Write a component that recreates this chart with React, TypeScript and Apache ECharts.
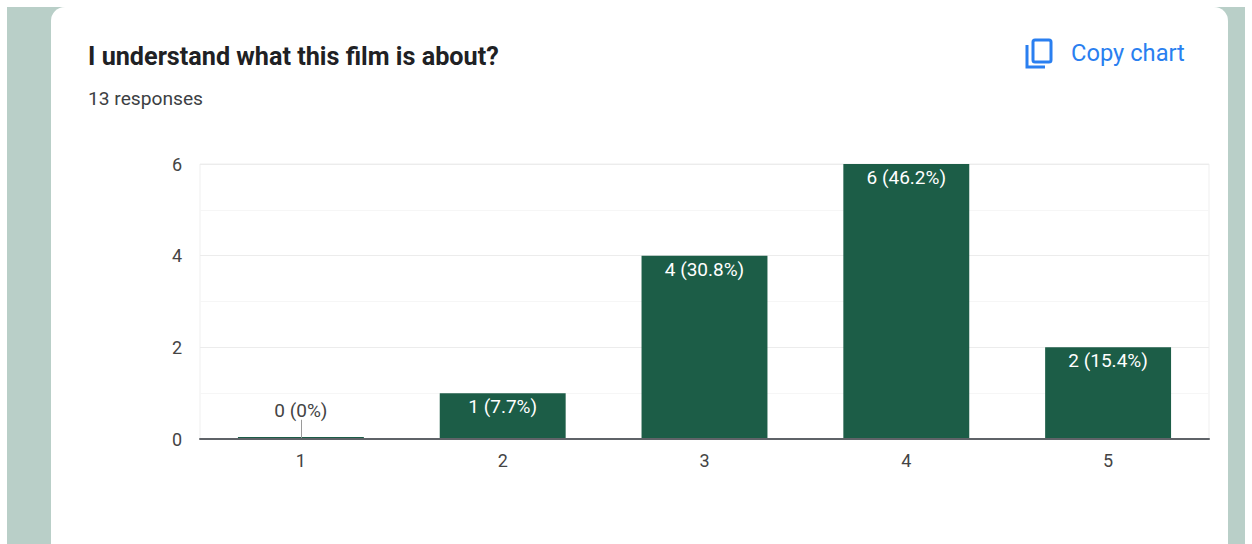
import React, { useEffect, useRef } from "react";
import * as echarts from "echarts";

const categories = ["1", "2", "3", "4", "5"];
const counts = [0, 1, 4, 6, 2];
const percents = ["0%", "7.7%", "30.8%", "46.2%", "15.4%"];
const titleText = "I understand what this film is about?";
const subtitleText = "13 responses";
const copyText = "Copy chart";
const yTicks = { min: 0, max: 6, interval: 2 };
const zeroLeader = 0.42;

export default function App() {
  const ref = useRef<HTMLDivElement>(null);
  useEffect(() => {
    document.body.style.margin = "0";
    const chart = echarts.init(ref.current!, null, { renderer: "svg" });
    const font = "Roboto";
    const blue = "#2a7ff0";
    const labelFor = (i: number) => `${counts[i]} (${percents[i]})`;
    chart.setOption({
      animation: false,
      backgroundColor: "#ffffff",
      textStyle: { fontFamily: font },
      title: [
        {
          text: titleText,
          left: 83,
          top: 39,
          textStyle: { fontFamily: font, fontSize: 25.2, fontWeight: 700, color: "#202124" },
        },
        {
          text: subtitleText,
          left: 83,
          top: 84,
          textStyle: { fontFamily: font, fontSize: 19.2, fontWeight: 400, color: "#3c4043" },
        },
      ],
      grid: {
        left: 200,
        right: 43,
        top: 164,
        bottom: 105,
        containLabel: false,
        show: true,
        borderColor: "#efefef",
        borderWidth: 1,
      },
      xAxis: {
        type: "category",
        data: categories,
        axisTick: { show: false },
        axisLine: { show: true, lineStyle: { color: "#5f6368", width: 2 } },
        axisLabel: { color: "#444444", fontSize: 18, fontFamily: font, margin: 12 },
        splitLine: { show: false },
        z: 5,
      },
      yAxis: {
        type: "value",
        min: yTicks.min,
        max: yTicks.max,
        interval: yTicks.interval,
        axisLine: { show: false },
        axisTick: { show: false },
        axisLabel: { color: "#444444", fontSize: 18, fontFamily: font, margin: 18 },
        splitLine: { show: true, lineStyle: { color: "#ececec", width: 1 } },
        minorTick: { show: false, splitNumber: 2 },
        minorSplitLine: { show: true, lineStyle: { color: "#f6f6f6", width: 1 } },
      },
      series: [
        {
          type: "bar",
          barWidth: "62.4%",
          barMinHeight: 2,
          itemStyle: { color: "#1c5d47" },
          data: counts.map((v, i) => ({
            value: v,
            label:
              v === 0
                ? {
                    show: true,
                    position: "top",
                    distance: 17,
                    color: "#444444",
                    fontSize: 19,
                    fontFamily: font,
                    formatter: () => labelFor(i),
                  }
                : {
                    show: true,
                    position: "insideTop",
                    distance: 4,
                    color: "#ffffff",
                    fontSize: 19,
                    fontFamily: font,
                    formatter: () => labelFor(i),
                  },
          })),
          markLine: {
            silent: true,
            symbol: "none",
            label: { show: false },
            lineStyle: { color: "#9a9a9a", width: 1, type: "solid" },
            data: [[{ coord: [categories[0], 0] }, { coord: [categories[0], zeroLeader] }]],
          },
        },
      ],
      graphic: [
        {
          type: "rect",
          z: -10,
          silent: true,
          shape: { x: 7, y: 7, width: 1238, height: 537 },
          style: { fill: "#b9cfc8" },
        },
        {
          type: "rect",
          z: -9,
          silent: true,
          shape: { x: 51, y: 7, width: 1177, height: 560, r: 14 },
          style: { fill: "#ffffff" },
        },
        {
          type: "rect",
          z: 10,
          silent: true,
          shape: { x: 1033, y: 40, width: 18, height: 22, r: 2 },
          style: { fill: "none", stroke: blue, lineWidth: 3 },
        },
        {
          type: "polyline",
          z: 10,
          silent: true,
          shape: { points: [[1027, 45], [1027, 67], [1045, 67]] },
          style: { fill: "none", stroke: blue, lineWidth: 3 },
        },
        {
          type: "text",
          z: 10,
          x: 1071,
          y: 41,
          style: { text: copyText, fill: blue, font: `400 23.7px ${font}` },
        },
      ],
    });
    return () => chart.dispose();
  }, []);
  return <div ref={ref} style={{ width: 1252, height: 544 }} />;
}
